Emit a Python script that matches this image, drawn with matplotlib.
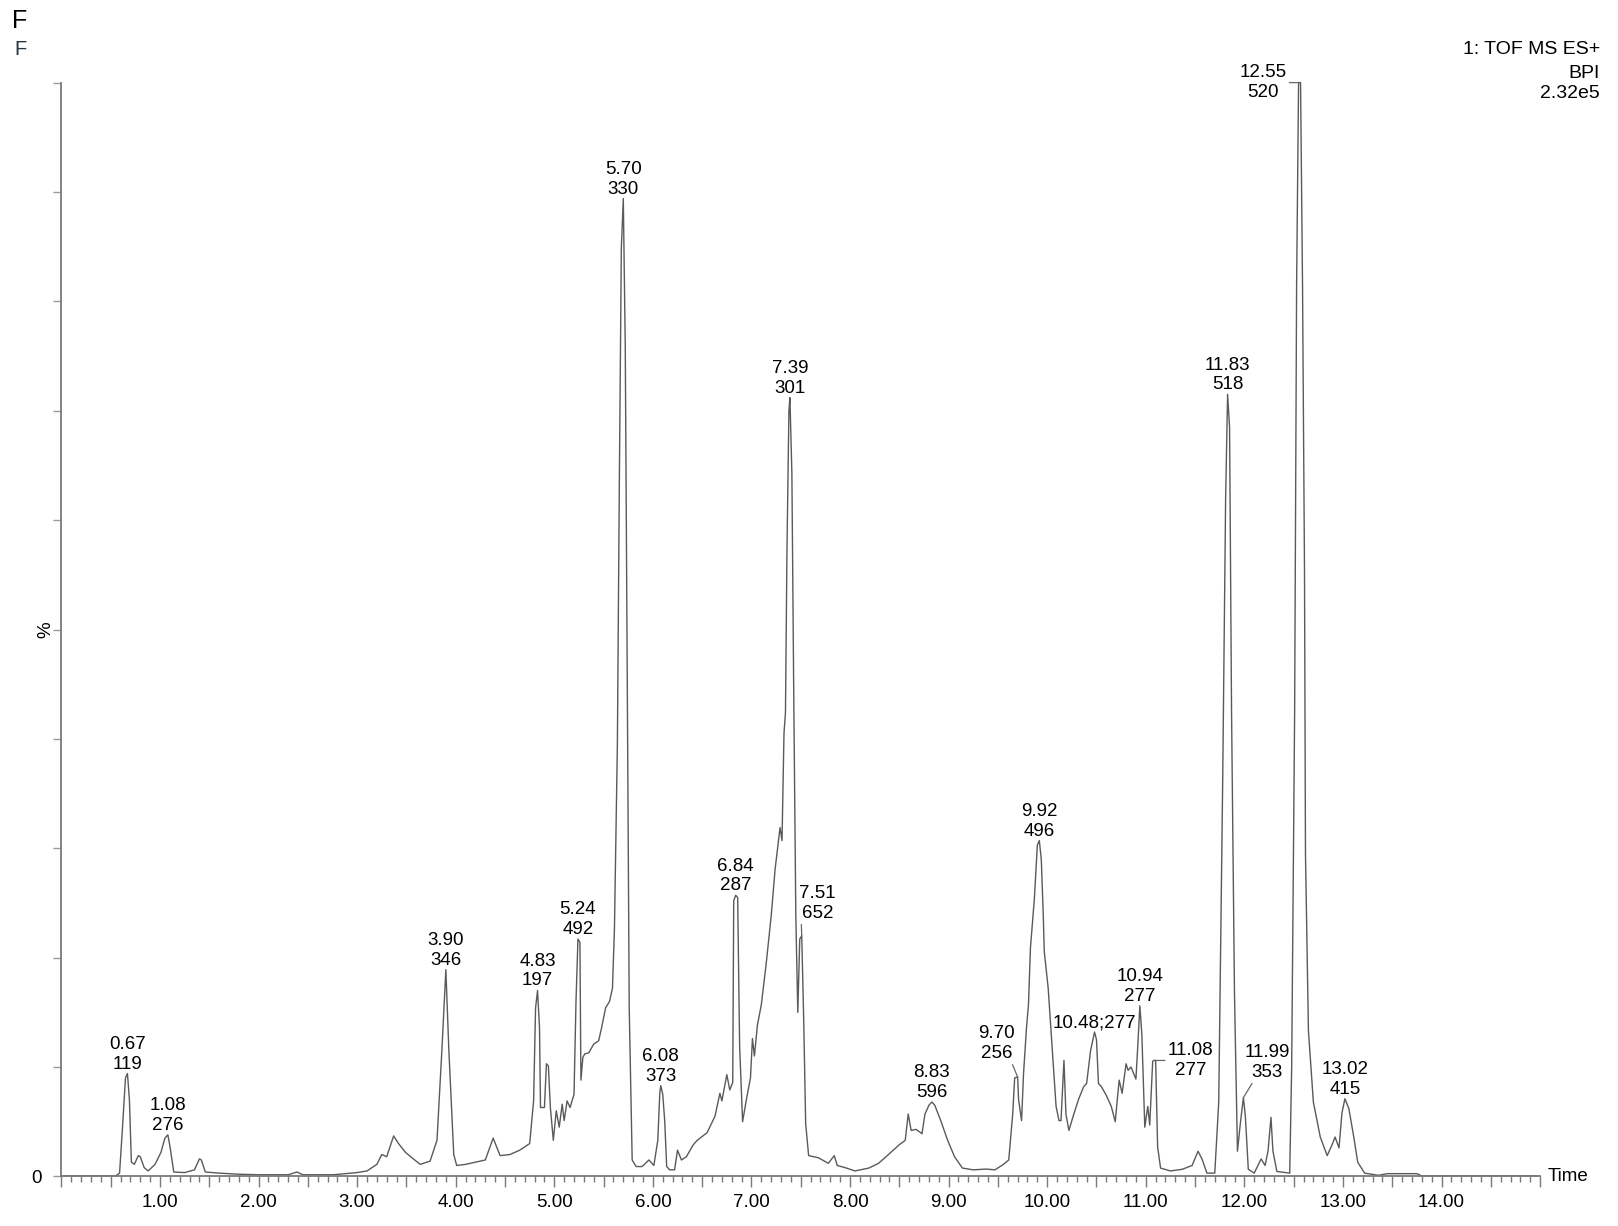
import matplotlib
matplotlib.use("Agg")
import matplotlib.pyplot as plt
from matplotlib.ticker import MultipleLocator, FuncFormatter
import numpy as np

plt.rcParams['font.family'] = ['Liberation Sans', 'DejaVu Sans']

# base peak intensity trace (time in min, % of 2.32e5)
rt_min = [
    0.00, 0.55, 0.59, 0.62, 0.65, 0.67, 0.69, 0.71, 0.74, 0.78, 0.80, 0.84, 0.88, 0.95,
    1.01, 1.05, 1.08, 1.10, 1.14, 1.25, 1.35, 1.40, 1.42, 1.46, 1.60, 1.80, 2.00, 2.30,
    2.39, 2.45, 2.76, 3.00, 3.10, 3.20, 3.25, 3.30, 3.37, 3.42, 3.49, 3.57, 3.64, 3.74,
    3.81, 3.86, 3.90, 3.93, 3.98, 4.01, 4.10, 4.20, 4.30, 4.38, 4.45, 4.55, 4.65, 4.75,
    4.79, 4.81, 4.83, 4.85, 4.86, 4.90, 4.92, 4.94, 4.96, 4.99, 5.02, 5.05, 5.08, 5.10,
    5.13, 5.16, 5.20, 5.22, 5.24, 5.26, 5.27, 5.29, 5.31, 5.35, 5.40, 5.45, 5.48, 5.52,
    5.56, 5.59, 5.61, 5.64, 5.66, 5.68, 5.70, 5.72, 5.74, 5.76, 5.79, 5.83, 5.89, 5.96,
    6.01, 6.05, 6.07, 6.08, 6.10, 6.12, 6.14, 6.17, 6.22, 6.25, 6.29, 6.34, 6.41, 6.45,
    6.55, 6.63, 6.68, 6.70, 6.75, 6.78, 6.81, 6.82, 6.84, 6.86, 6.88, 6.91, 6.95, 6.99,
    7.01, 7.03, 7.06, 7.10, 7.15, 7.20, 7.24, 7.29, 7.31, 7.33, 7.345, 7.36, 7.38, 7.39,
    7.41, 7.43, 7.45, 7.47, 7.49, 7.51, 7.53, 7.55, 7.58, 7.68, 7.78, 7.84, 7.87, 7.95,
    8.05, 8.19, 8.29, 8.39, 8.50, 8.56, 8.59, 8.62, 8.67, 8.73, 8.76, 8.80, 8.83, 8.86,
    8.92, 8.99, 9.06, 9.14, 9.25, 9.38, 9.47, 9.55, 9.61, 9.65, 9.67, 9.70, 9.71, 9.74,
    9.76, 9.79, 9.81, 9.83, 9.87, 9.90, 9.92, 9.94, 9.96, 9.97, 10.01, 10.05, 10.09, 10.12,
    10.14, 10.17, 10.19, 10.22, 10.27, 10.32, 10.37, 10.40, 10.44, 10.48, 10.50, 10.52, 10.55, 10.60,
    10.65, 10.69, 10.73, 10.76, 10.80, 10.82, 10.85, 10.90, 10.92, 10.94, 10.96, 10.99, 11.02, 11.04,
    11.07, 11.08, 11.10, 11.12, 11.15, 11.25, 11.37, 11.47, 11.53, 11.57, 11.62, 11.70, 11.74, 11.78,
    11.81, 11.83, 11.85, 11.87, 11.90, 11.93, 11.96, 11.99, 12.01, 12.04, 12.10, 12.17, 12.21, 12.24,
    12.27, 12.29, 12.33, 12.46, 12.48, 12.51, 12.53, 12.55, 12.57, 12.59, 12.61, 12.62, 12.65, 12.70,
    12.77, 12.84, 12.89, 12.92, 12.96, 12.99, 13.02, 13.06, 13.11, 13.15, 13.22, 13.36, 13.45, 13.75,
    13.80, 14.97,
]
bpi_pct = [
    0.05, 0.05, 0.3, 4.5, 9.0, 9.4, 7.0, 1.3, 1.1, 1.9, 1.8, 0.8, 0.5, 1.1,
    2.2, 3.5, 3.8, 2.8, 0.4, 0.35, 0.6, 1.6, 1.5, 0.4, 0.3, 0.2, 0.15, 0.15,
    0.4, 0.15, 0.15, 0.35, 0.5, 1.1, 2.0, 1.8, 3.7, 3.0, 2.2, 1.6, 1.1, 1.4,
    3.3, 11.6, 18.9, 11.6, 2.0, 1.0, 1.1, 1.3, 1.5, 3.5, 1.9, 2.0, 2.4, 3.0,
    6.9, 15.4, 17.0, 13.6, 6.3, 6.3, 10.3, 10.1, 6.3, 3.3, 6.0, 4.5, 6.6, 5.1,
    6.9, 6.3, 7.5, 16.0, 21.7, 21.4, 8.8, 10.9, 11.2, 11.3, 12.1, 12.4, 13.6, 15.4,
    16.0, 17.2, 22.6, 39.6, 63.7, 84.9, 89.4, 75.8, 45.6, 15.4, 1.5, 0.9, 0.9, 1.5,
    1.0, 3.3, 7.6, 8.3, 7.5, 5.1, 0.9, 0.6, 0.6, 2.4, 1.5, 1.8, 2.9, 3.3,
    4.0, 5.5, 7.6, 6.9, 9.3, 7.9, 8.6, 25.2, 25.7, 25.5, 11.9, 5.0, 7.1, 9.0,
    12.6, 11.0, 13.8, 15.7, 19.5, 23.8, 28.1, 31.9, 30.7, 40.5, 42.4, 57.1, 70.0, 71.2,
    64.3, 42.9, 23.8, 15.0, 21.7, 22.0, 14.3, 4.8, 1.9, 1.7, 1.2, 1.9, 1.0, 0.8,
    0.5, 0.76, 1.2, 2.0, 2.9, 3.3, 5.7, 4.2, 4.3, 3.9, 5.7, 6.5, 6.8, 6.5,
    5.1, 3.3, 1.8, 0.76, 0.6, 0.67, 0.6, 1.06, 1.5, 5.7, 9.0, 9.1, 7.0, 5.1,
    9.4, 13.6, 15.7, 20.9, 25.4, 30.3, 30.7, 29.0, 23.9, 20.6, 17.2, 11.8, 6.4, 5.1,
    5.1, 10.6, 5.7, 4.2, 5.7, 7.1, 8.2, 8.5, 11.5, 13.2, 12.5, 8.5, 8.2, 7.4,
    6.4, 5.0, 8.8, 7.6, 10.3, 9.7, 10.0, 8.9, 12.1, 15.6, 13.0, 4.5, 6.4, 4.7,
    10.5, 10.6, 10.6, 2.7, 0.76, 0.5, 0.65, 1.0, 2.3, 1.6, 0.3, 0.3, 6.8, 36.0,
    62.0, 71.5, 68.5, 42.5, 16.6, 2.3, 4.9, 7.2, 5.5, 0.65, 0.3, 1.6, 1.0, 2.3,
    5.4, 2.3, 0.45, 0.3, 10.0, 42.5, 81.5, 100.0, 100.0, 81.5, 55.5, 29.5, 13.3, 6.8,
    3.6, 1.9, 2.9, 3.6, 2.6, 5.8, 7.1, 6.2, 3.6, 1.3, 0.3, 0.1, 0.25, 0.25,
    0.05, 0.05,
]

# labelled peaks: retention time and base peak m/z
peak_rt = ['0.67', '1.08', '3.90', '4.83', '5.24', '5.70', '6.08', '6.84', '7.39', '7.51',
           '8.83', '9.70', '9.92', '10.48', '10.94', '11.08', '11.83', '11.99', '12.55', '13.02']
peak_mz = ['119', '276', '346', '197', '492', '330', '373', '287', '301', '652',
           '596', '256', '496', '277', '277', '277', '518', '353', '520', '415']

W, H = 1618, 1226
fig = plt.figure(figsize=(W / 100, H / 100), dpi=100, facecolor='white')
ax = fig.add_axes([61.4 / W, 49.6 / H, 1478.7 / W, 1093.8 / H])

ax.plot(rt_min, bpi_pct, color='#5a5a5a', lw=1.0, clip_on=False)
ax.set_xlim(0, 15)
ax.set_ylim(0, 100)

for s in ['top', 'right']:
    ax.spines[s].set_visible(False)
for s in ['left', 'bottom']:
    ax.spines[s].set_color('#7a7a7a')
    ax.spines[s].set_linewidth(1.3)

ax.xaxis.set_major_locator(MultipleLocator(0.5))
ax.xaxis.set_minor_locator(MultipleLocator(0.1))
ax.xaxis.set_major_formatter(FuncFormatter(
    lambda v, p: '{:.2f}'.format(v) if abs(v - round(v)) < 1e-6 and 0.5 < v < 14.5 else ''))
ax.yaxis.set_major_locator(MultipleLocator(10))
ax.yaxis.set_major_formatter(FuncFormatter(lambda v, p: '0' if abs(v) < 1e-6 else ''))
ax.tick_params(axis='x', which='major', length=8, width=1, color='#7a7a7a',
               labelsize=13.5, pad=5)
ax.tick_params(axis='x', which='minor', length=4, width=1, color='#7a7a7a')
ax.tick_params(axis='y', which='major', length=6, width=1, color='#9a9a9a',
               labelsize=13.5, pad=8)

ax.text(1.005, 0, 'Time', transform=ax.transAxes, ha='left', va='center', fontsize=13.5)
fig.text(45.4 / W, 1 - 629.5 / H, '%', rotation=90, ha='center', va='center', fontsize=13.5)

# header texts
fig.text(12 / W, 1 - 21 / H, 'F', ha='left', va='center', fontsize=18)
fig.text(14 / W, 1 - 49.5 / H, 'F', ha='left', va='center', fontsize=14.5, color='#223344')
fig.text(1600 / W, 1 - 50 / H, '1: TOF MS ES+', ha='right', va='center', fontsize=14)
fig.text(1600 / W, 1 - 73 / H, 'BPI', ha='right', va='center', fontsize=14)
fig.text(1600 / W, 1 - 94 / H, '2.32e5', ha='right', va='center', fontsize=14)

# label placement: offset (px), alignment, leader start (relpos) or None
special = {
    '7.51': ((16, 14), 'center', 'bottom', (0.05, 0.0)),
    '9.70': ((-21, 15), 'center', 'bottom', (0.9, 0.0)),
    '11.08': ((14, 0), 'left', 'center', (0.0, 0.5)),
    '11.99': ((24, 17), 'center', 'bottom', (0.2, 0.0)),
    '12.55': ((-12, 0), 'right', 'center', (1.0, 0.5)),
}

for rt, mz in zip(peak_rt, peak_mz):
    t = float(rt)
    h = np.interp(t, rt_min, bpi_pct)
    txt = rt + ';' + mz if rt == '10.48' else rt + '\n' + mz
    off, ha, va, rel = special.get(rt, ((0, 1), 'center', 'bottom', None))
    kw = {}
    if rel is not None:
        kw['arrowprops'] = dict(arrowstyle='-', color='#666666', lw=0.9,
                                shrinkA=0, shrinkB=0, relpos=rel)
    ax.annotate(txt, xy=(t, h), xytext=off, textcoords='offset pixels',
                ha=ha, va=va, multialignment='center', fontsize=13.5,
                linespacing=1.2, annotation_clip=False, **kw)

fig.savefig('out.png', dpi=100, facecolor='white')
